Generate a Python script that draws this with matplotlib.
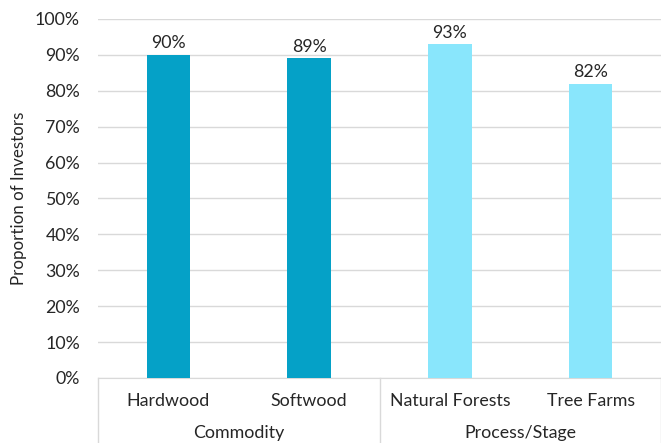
import numpy as np
import matplotlib
matplotlib.use("Agg")
import matplotlib.pyplot as plt
from matplotlib.ticker import PercentFormatter
from matplotlib.lines import Line2D

# data
categories = ["Hardwood", "Softwood", "Natural Forests", "Tree Farms"]
values = [90, 89, 93, 82]
groups = ["Commodity", "Process/Stage"]
group_sizes = [2, 2]
group_colors = ["#05A1C7", "#89E6FC"]

plt.rcParams['font.family'] = ['Lato', 'DejaVu Sans']
fs = 12.8

fig = plt.figure(figsize=(6.61, 4.43), dpi=100)
ax = fig.add_axes([98/661, 1-378/443, 1-98/661, (378-19)/443])

colors = []
for c, n in zip(group_colors, group_sizes):
	colors += [c]*n
x = np.arange(len(categories))
bars = ax.bar(x, values, width=0.31, color=colors, zorder=3)
for xi, v in zip(x, values):
	ax.text(xi, v+1, "%d%%" % v, ha='center', va='bottom', fontsize=fs, color='#262626')

ax.set_xlim(-0.5, len(categories)-0.5)
ax.set_ylim(0, 100)
ax.set_yticks(np.arange(0, 101, 10))
ax.yaxis.set_major_formatter(PercentFormatter(decimals=0))
ax.yaxis.grid(True, color='#D9D9D9', linewidth=1, zorder=0)
ax.tick_params(axis='y', length=0, labelsize=fs, labelcolor='#262626', pad=13)
ax.set_xticks([])
for s in ['top', 'right', 'left']:
	ax.spines[s].set_visible(False)
ax.spines['bottom'].set_color('#D9D9D9')
ax.set_ylabel("Proportion of Investors", fontsize=12.2, color='#262626', labelpad=6)

# category and group labels below the axis
trans = ax.get_xaxis_transform()
for xi, name in zip(x, categories):
	ax.text(xi, -0.064, name, transform=trans, ha='center', va='center', fontsize=fs, color='#262626')
start = 0
bounds = [-0.5]
for g, n in zip(groups, group_sizes):
	mid = start + (n-1)/2
	ax.text(mid, -0.153, g, transform=trans, ha='center', va='center', fontsize=fs, color='#262626')
	start += n
	bounds.append(start-0.5)
for b in bounds:
	ax.add_line(Line2D([b, b], [0, -0.2], transform=trans, color='#D9D9D9', linewidth=1, clip_on=False))

fig.savefig("out.png", dpi=100)
